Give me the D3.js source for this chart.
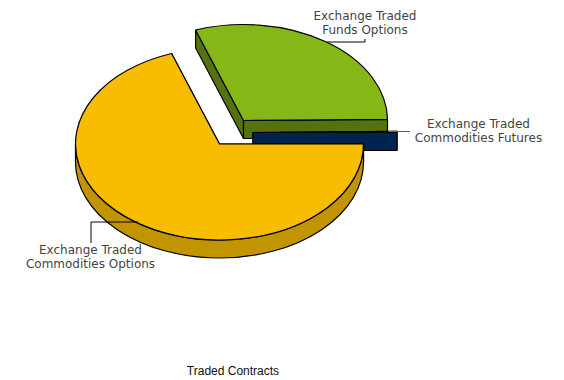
<!DOCTYPE html>
<html><head><meta charset="utf-8">
<style>html,body{margin:0;padding:0;background:#fff}svg{display:block}</style>
<script src="https://cdn.jsdelivr.net/npm/d3@7"></script>
</head><body><svg id="c" width="564" height="380"></svg>
<script>
const categories = ["Exchange Traded Commodities Options","Exchange Traded Funds Options","Exchange Traded Commodities Futures"];
const values = [69.6, 30.2, 0.2];
const topColors = ["#F8BC00","#85B717","#00244D"];
const wallColors = ["#C29500","#54720F","#00244D"];
const labelLines = [["Exchange Traded","Commodities Options"],["Exchange Traded","Funds Options"],["Exchange Traded","Commodities Futures"]];
const centers = [[219.5,144],[243.5,120.5],[253,132.5]];
const leaders = [[[138,222],[91,222],[91,243]],[[327,42],[365,42],[365,39]],[[388,131.5],[410,131.5]]];
const leaderColors = ["#000","#000","#666"];
const labelPos = [[90.5,254],[365,20],[478.5,128]];
const drawOrder = [1,2,0];
const rx = 144, ry = 96, depth = 18, strokeW = 1.2;

const svg = d3.select("#c");
const arcs = d3.pie().sort(null).startAngle(Math.PI/2).endAngle(Math.PI*2.5)(values);
const pt = (c,t)=>[c[0]+rx*Math.cos(t), c[1]+ry*Math.sin(t)];
const ang = a=>a-Math.PI/2;

drawOrder.forEach(i=>{
  const d=arcs[i], c=centers[i], t0=ang(d.startAngle), t1=ang(d.endAngle);
  const g=svg.append("g").attr("stroke","#000").attr("stroke-width",strokeW);
  [t0,t1].forEach(t=>{
    const o=pt(c,t);
    g.append("path").attr("d",d3.line()([c,o,[o[0],o[1]+depth],[c[0],c[1]+depth]])+"Z")
      .attr("fill",wallColors[i]);
  });
  const w0=Math.max(t0,0), w1=Math.min(t1,Math.PI);
  if(w1>w0){
    const a=pt(c,w0), b=pt(c,w1);
    g.append("path")
      .attr("d",`M${a}A${rx},${ry} 0 0 1 ${b}L${b[0]},${b[1]+depth}A${rx},${ry} 0 0 0 ${a[0]},${a[1]+depth}Z`)
      .attr("fill",wallColors[i]);
  }
  const a=pt(c,t0), b=pt(c,t1);
  g.append("path")
    .attr("d",`M${c}L${a}A${rx},${ry} 0 ${t1-t0>Math.PI?1:0} 1 ${b}Z`)
    .attr("fill",topColors[i]).attr("stroke-linejoin","round");
});
leaders.forEach((l,i)=>{
  svg.append("path").attr("d",d3.line()(l)).attr("fill","none").attr("stroke",leaderColors[i]).attr("stroke-width",1);
});
labelLines.forEach((ls,i)=>{
  ls.forEach((s,j)=>{
    svg.append("text").attr("x",labelPos[i][0]).attr("y",labelPos[i][1]+j*14)
      .attr("text-anchor","middle").attr("font-family","DejaVu Sans").attr("font-size",12)
      .attr("fill","#444").text(s);
  });
});
svg.append("text").attr("x",233).attr("y",375).attr("text-anchor","middle")
  .attr("font-family","Liberation Sans").attr("font-size",12).attr("fill","#111").text("Traded Contracts");
</script></body></html>
